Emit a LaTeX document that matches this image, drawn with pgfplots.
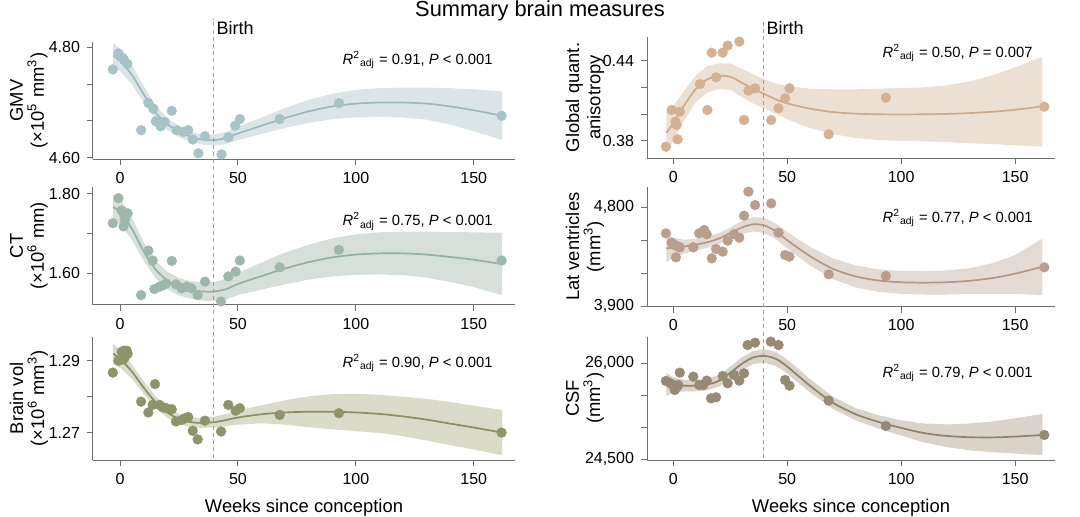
\documentclass[border=0pt]{standalone}
\usepackage{pgfplots}
\pgfplotsset{compat=1.18}
\usepackage{fontspec}
\setmainfont{Liberation Sans}
\definecolor{axgray}{HTML}{6E6E6E}
\definecolor{mA}{HTML}{A8C3C8}\definecolor{lA}{HTML}{9DB9BD}\definecolor{bA}{HTML}{DBE5E7}
\definecolor{mB}{HTML}{9DB8AB}\definecolor{lB}{HTML}{95B0A4}\definecolor{bB}{HTML}{D6DFD9}
\definecolor{mC}{HTML}{8E9369}\definecolor{lC}{HTML}{8A8F62}\definecolor{bC}{HTML}{DADBC8}
\definecolor{mD}{HTML}{D5B193}\definecolor{lD}{HTML}{CFA988}\definecolor{bD}{HTML}{ECDFD4}
\definecolor{mE}{HTML}{B99E8D}\definecolor{lE}{HTML}{B39783}\definecolor{bE}{HTML}{E4DAD4}
\definecolor{mF}{HTML}{968A74}\definecolor{lF}{HTML}{8D8169}\definecolor{bF}{HTML}{D9D3CA}
\pgfplotsset{
  panel/.style={scale only axis, axis lines=left,
    axis line style={draw=axgray, line width=0.5pt, -},
    tick style={draw=axgray, line width=0.5pt}, tick align=outside,
    major tick length=3pt, xmin=-11.5, xmax=167.5,
    scaled y ticks=false, scaled x ticks=false,
    xtick={0,50,100,150}, xticklabels={0,50,100,150},
    tick label style={font=\fontsize{8}{9}\selectfont, text=black},
    ylabel style={at={(axis description cs:-0.152,0.5)}, anchor=center, align=center, font=\fontsize{9.2}{10.6}\selectfont},
    xlabel style={at={(axis description cs:0.5,0)}, anchor=center, yshift=-24pt, font=\fontsize{9.2}{10.6}\selectfont},
    clip=false},
  bandp/.style={draw=none, fill=#1, forget plot},
  fitl/.style={smooth, line width=0.85pt, color=#1},
  pts/.style={only marks, color=#1, mark=*, mark size=2.45pt, mark options={solid, fill=#1, draw=#1, line width=0.2pt}},
}
\tikzset{rs/.style={anchor=east, inner sep=0pt, font=\fontsize{7.4}{8.5}\selectfont}}
\newcommand{\rsq}[2]{\textit{R}\textsuperscript{2}\textsubscript{adj} = #1, \textit{P} #2}
\begin{document}
\begin{tikzpicture}
\useasboundingbox (0,0) rectangle (540pt,-258.5pt);
\node[font=\fontsize{10.9}{12}\selectfont] at (270pt,-5.5pt) {Summary brain measures};
% ---------- Panel 1 GMV
\begin{axis}[panel, at={(46.5pt,-79.7pt)}, anchor=south west, width=211pt, height=58.8pt,
  ymin=4.597, ymax=4.810, ytick={4.6,4.66667,4.73333,4.8}, yticklabels={4.60,,,4.80},
  ylabel={GMV\\(×10\textsuperscript{5} mm\textsuperscript{3})}]
\addplot[bandp=bA] coordinates {(-3,4.808)(0,4.797)(5,4.768)(10,4.730)(15,4.695)(20,4.672)(25,4.657)(30,4.647)(35,4.642)(40,4.642)(45,4.647)(50,4.656)(60,4.673)(70,4.690)(80,4.705)(90,4.716)(100,4.723)(110,4.726)(120,4.727)(130,4.727)(140,4.726)(150,4.724)(162,4.720)
 (162,4.632)(150,4.648)(140,4.660)(130,4.669)(120,4.673)(110,4.674)(100,4.673)(90,4.670)(80,4.663)(70,4.654)(60,4.643)(50,4.632)(45,4.625)(40,4.622)(35,4.624)(30,4.629)(25,4.637)(20,4.650)(15,4.669)(10,4.700)(5,4.733)(0,4.757)(-3,4.764)} -- cycle;
\addplot[fitl=lA] coordinates {(-3,4.785)(0,4.775)(5,4.750)(10,4.715)(15,4.682)(20,4.661)(25,4.647)(30,4.638)(35,4.633)(40,4.632)(45,4.636)(50,4.644)(60,4.658)(70,4.672)(80,4.684)(90,4.693)(100,4.698)(110,4.700)(120,4.700)(130,4.698)(140,4.693)(150,4.686)(162,4.676)};
\addplot[pts=mA] coordinates {(-3.1,4.760)(-0.7,4.789)(1.1,4.781)(1.7,4.777)(3.1,4.770)(8.9,4.650)(12.0,4.699)(14.1,4.689)(15.1,4.666)(17.2,4.657)(18.9,4.665)(21.9,4.685)(24.0,4.650)(26.8,4.647)(28.9,4.650)(30.8,4.633)(33.2,4.608)(36.0,4.639)(43.0,4.606)(45.9,4.637)(48.8,4.658)(50.8,4.670)(67.7,4.670)(92.8,4.699)(161.8,4.676)};
\node[rs] at (rel axis cs:0.948,0.845) {\rsq{0.91}{< 0.001}};
\end{axis}
% ---------- Panel 2 CT
\begin{axis}[panel, at={(46.5pt,-152.5pt)}, anchor=south west, width=211pt, height=59.15pt,
  ymin=1.52, ymax=1.818, ytick={1.6,1.7,1.8}, yticklabels={1.60,,1.80},
  ylabel={CT\\(×10\textsuperscript{6} mm)}]
\addplot[bandp=bB] coordinates {(-3,1.798)(0,1.786)(5,1.740)(10,1.678)(15,1.632)(20,1.604)(25,1.588)(30,1.580)(35,1.577)(40,1.578)(45,1.586)(50,1.601)(60,1.627)(70,1.652)(80,1.672)(90,1.688)(100,1.698)(110,1.703)(120,1.705)(130,1.705)(140,1.704)(150,1.703)(162,1.702)
 (162,1.545)(150,1.565)(140,1.578)(130,1.589)(120,1.595)(110,1.597)(100,1.596)(90,1.592)(80,1.584)(70,1.572)(60,1.559)(50,1.545)(45,1.534)(40,1.530)(35,1.531)(30,1.536)(25,1.544)(20,1.560)(15,1.588)(10,1.632)(5,1.684)(0,1.724)(-3,1.734)} -- cycle;
\addplot[fitl=lB] coordinates {(-3,1.766)(0,1.755)(5,1.712)(10,1.655)(15,1.610)(20,1.582)(25,1.566)(30,1.558)(35,1.554)(40,1.554)(45,1.560)(50,1.573)(60,1.593)(70,1.612)(80,1.628)(90,1.640)(100,1.647)(110,1.650)(120,1.650)(130,1.647)(140,1.641)(150,1.634)(162,1.623)};
\addplot[pts=mB] coordinates {(-3.1,1.726)(-0.7,1.789)(0.7,1.758)(1.7,1.747)(3.2,1.751)(2.1,1.735)(1.4,1.718)(8.9,1.545)(12.0,1.657)(13.8,1.632)(14.5,1.560)(16.7,1.566)(18.3,1.570)(19.5,1.574)(21.9,1.631)(23.7,1.572)(26.1,1.562)(28.2,1.566)(30.3,1.562)(32.9,1.545)(36.0,1.579)(42.8,1.529)(45.9,1.592)(49.0,1.604)(50.8,1.632)(67.7,1.615)(92.8,1.659)(161.8,1.632)};
\node[rs] at (rel axis cs:0.948,0.705) {\rsq{0.75}{< 0.001}};
\end{axis}
% ---------- Panel 3 Brain vol
\begin{axis}[panel, at={(46.5pt,-230pt)}, anchor=south west, width=211pt, height=61.65pt,
  ymin=1.26236, ymax=1.2967, ytick={1.27,1.28,1.29}, yticklabels={1.27,,1.29},
  ylabel={Brain vol\\(×10\textsuperscript{6} mm\textsuperscript{3})}, xlabel={Weeks since conception}]
\addplot[bandp=bC] coordinates {(-3,1.2948)(0,1.2930)(5,1.2890)(10,1.2843)(15,1.2801)(20,1.2771)(25,1.2752)(30,1.2743)(35,1.2741)(40,1.2744)(45,1.2752)(50,1.2762)(60,1.2776)(70,1.2790)(80,1.2801)(90,1.2807)(100,1.2808)(110,1.2805)(120,1.2800)(130,1.2794)(140,1.2785)(150,1.2775)(162,1.2763)
 (162,1.2637)(150,1.2653)(140,1.2665)(130,1.2678)(120,1.2690)(110,1.2699)(100,1.2704)(90,1.2709)(80,1.2715)(70,1.2722)(60,1.2726)(50,1.2722)(45,1.2718)(40,1.2714)(35,1.2713)(30,1.2715)(25,1.2724)(20,1.2741)(15,1.2769)(10,1.2807)(5,1.2850)(0,1.2880)(-3,1.2892)} -- cycle;
\addplot[fitl=lC] coordinates {(-3,1.2920)(0,1.2905)(5,1.2870)(10,1.2825)(15,1.2785)(20,1.2756)(25,1.2738)(30,1.2729)(35,1.2727)(40,1.2729)(45,1.2735)(50,1.2742)(60,1.2751)(70,1.2756)(80,1.2758)(90,1.2758)(100,1.2756)(110,1.2752)(120,1.2745)(130,1.2736)(140,1.2725)(150,1.2714)(162,1.2700)};
\addplot[pts=mC] coordinates {(-3.1,1.2867)(-0.7,1.2900)(0.7,1.2925)(1.7,1.2928)(2.8,1.2928)(3.2,1.2920)(2.1,1.2911)(1.4,1.2904)(8.9,1.2786)(12.0,1.2756)(14.8,1.2835)(13.8,1.2777)(16.7,1.2777)(18.3,1.2770)(19.5,1.2768)(21.9,1.2765)(23.7,1.2731)(26.1,1.2735)(27.5,1.2740)(28.9,1.2743)(30.8,1.2705)(32.9,1.2681)(36.0,1.2733)(42.8,1.2703)(45.9,1.2777)(49.0,1.2761)(50.8,1.2768)(67.7,1.2749)(92.8,1.2754)(161.8,1.2700)};
\node[rs] at (rel axis cs:0.948,0.787) {\rsq{0.90}{< 0.001}};
\coordinate (bL) at (axis cs:39.5,1.2628);
\end{axis}
% ---------- Panel 4 GQA
\begin{axis}[panel, at={(323.5pt,-79.15pt)}, anchor=south west, width=204pt, height=60.8pt,
  ymin=0.3668, ymax=0.458, ytick={0.38,0.40,0.42,0.44}, yticklabels={0.38,,,0.44},
  ylabel={Global quant.\\anisotropy}]
\addplot[bandp=bD] coordinates {(-3,0.4015)(0,0.406)(5,0.418)(10,0.429)(15,0.436)(20,0.438)(25,0.438)(30,0.434)(35,0.430)(40,0.426)(45,0.423)(50,0.421)(60,0.419)(70,0.4185)(80,0.4185)(90,0.419)(100,0.4195)(110,0.420)(120,0.4215)(130,0.4245)(140,0.429)(150,0.435)(162,0.443)
 (162,0.3755)(150,0.3765)(140,0.3775)(130,0.378)(120,0.379)(110,0.3795)(100,0.3799)(90,0.3805)(80,0.382)(70,0.385)(60,0.3895)(50,0.396)(45,0.400)(40,0.404)(35,0.408)(30,0.413)(25,0.418)(20,0.419)(15,0.416)(10,0.409)(5,0.396)(0,0.380)(-3,0.371)} -- cycle;
\addplot[fitl=lD] coordinates {(-3,0.386)(0,0.393)(5,0.407)(10,0.419)(15,0.426)(20,0.4285)(25,0.4280)(30,0.4235)(35,0.419)(40,0.4150)(45,0.4110)(50,0.4080)(60,0.4040)(70,0.4015)(80,0.4003)(90,0.3998)(100,0.3997)(110,0.3998)(120,0.4001)(130,0.4007)(140,0.4017)(150,0.4032)(162,0.4058)};
\addplot[pts=mD] coordinates {(-3.2,0.3755)(-0.7,0.403)(1.0,0.3943)(1.5,0.3918)(1.9,0.381)(2.9,0.4018)(11.7,0.4225)(15.0,0.403)(16.9,0.446)(18.8,0.4275)(21.7,0.446)(23.9,0.4513)(29.0,0.4543)(31.1,0.3955)(33.0,0.4175)(35.9,0.4193)(43.0,0.3955)(46.2,0.4043)(49.1,0.4118)(51.0,0.4193)(68.2,0.3848)(93.3,0.4123)(162.8,0.4055)};
\node[rs] at (rel axis cs:0.946,0.866) {\rsq{0.50}{= 0.007}};
\end{axis}
% ---------- Panel 5 Lat ventricles
\begin{axis}[panel, at={(323.5pt,-153.35pt)}, anchor=south west, width=204pt, height=60pt,
  ymin=3894, ymax=4988, ytick={3900,4200,4500,4800}, yticklabels={{3,900},,,{4,800}},
  ylabel={Lat ventricles\\(mm\textsuperscript{3})}]
\addplot[bandp=bE] coordinates {(-3,4540)(0,4520)(5,4505)(10,4515)(15,4535)(20,4565)(25,4615)(30,4675)(35,4710)(40,4705)(45,4650)(50,4575)(60,4440)(70,4335)(80,4270)(90,4235)(100,4220)(110,4217)(120,4225)(130,4245)(140,4290)(150,4365)(162,4515)
 (162,4000)(150,4010)(140,4012)(130,4010)(120,4005)(110,4005)(100,4010)(90,4030)(80,4070)(70,4145)(60,4270)(50,4425)(45,4510)(40,4565)(35,4580)(30,4555)(25,4510)(20,4465)(15,4430)(10,4405)(5,4380)(0,4340)(-3,4300)} -- cycle;
\addplot[fitl=lE] coordinates {(-3,4426)(0,4432)(5,4444)(10,4460)(15,4482)(20,4515)(25,4565)(30,4615)(35,4645)(40,4635)(45,4580)(50,4500)(60,4355)(70,4240)(80,4170)(90,4133)(100,4117)(110,4113)(120,4117)(130,4130)(140,4155)(150,4195)(162,4259)};
\addplot[pts=mE] coordinates {(-3.2,4563)(-0.7,4478)(0.7,4456)(2.2,4441)(2.9,4435)(1.2,4344)(8.8,4435)(11.4,4563)(13.6,4593)(14.7,4554)(16.9,4335)(18.8,4420)(21.7,4396)(23.9,4496)(26.7,4554)(29.0,4523)(31.1,4724)(33.0,4943)(35.9,4821)(43.0,4836)(46.2,4569)(49.1,4365)(51.0,4350)(68.2,4189)(93.3,4174)(162.8,4253)};
\node[rs] at (rel axis cs:0.946,0.739) {\rsq{0.77}{< 0.001}};
\end{axis}
% ---------- Panel 6 CSF
\begin{axis}[panel, at={(323.5pt,-230pt)}, anchor=south west, width=204pt, height=61.65pt,
  ymin=24489, ymax=26416, ytick={24500,25000,25500,26000}, yticklabels={{24,500},,,{26,000}},
  ylabel={CSF\\(mm\textsuperscript{3})}, xlabel={Weeks since conception}]
\addplot[bandp=bF] coordinates {(-3,25850)(0,25780)(5,25740)(10,25738)(15,25760)(20,25815)(25,25945)(30,26090)(35,26190)(40,26220)(45,26180)(50,26060)(60,25755)(70,25480)(80,25300)(90,25190)(100,25110)(110,25060)(120,25045)(130,25060)(140,25090)(150,25140)(162,25210)
 (162,24565)(150,24590)(140,24610)(130,24640)(120,24690)(110,24765)(100,24870)(90,24980)(80,25110)(70,25290)(60,25545)(50,25840)(45,25960)(40,26010)(35,25990)(30,25890)(25,25755)(20,25635)(15,25580)(10,25562)(5,25560)(0,25550)(-3,25490)} -- cycle;
\addplot[fitl=lF] coordinates {(-3,25672)(0,25665)(5,25650)(10,25650)(15,25670)(20,25725)(25,25850)(30,25990)(35,26090)(40,26115)(45,26070)(50,25950)(60,25650)(70,25385)(80,25205)(90,25085)(100,24990)(110,24910)(120,24865)(130,24845)(140,24842)(150,24855)(162,24880)};
\addplot[pts=mF] coordinates {(-3.2,25724)(-1.2,25688)(0,25661)(0.7,25583)(1.5,25625)(2.2,25661)(2.9,25854)(8.8,25792)(11.4,25661)(13.2,25661)(14.7,25729)(16.6,25453)(18.8,25469)(21.7,25802)(23.9,25688)(26.7,25818)(29.0,25729)(31.1,25844)(32.6,26286)(35.9,26323)(42.8,26339)(46.2,26286)(49.1,25740)(51.0,25651)(68.2,25417)(93.3,25021)(162.8,24880)};
\node[rs] at (rel axis cs:0.946,0.706) {\rsq{0.79}{< 0.001}};
\coordinate (bR) at (axis cs:39.5,24520);
\end{axis}
% Birth lines
\draw[color=gray!75, line width=0.5pt, dash pattern=on 2pt off 1.6pt] (bL) -- (bL |- 0,-9.5pt);
\draw[color=gray!75, line width=0.5pt, dash pattern=on 2pt off 1.6pt] (bR) -- (bR |- 0,-9.5pt);
\node[anchor=west, font=\fontsize{9}{10}\selectfont, inner sep=1pt] at ([xshift=0.5pt]bL |- 0,-14pt) {Birth};
\node[anchor=west, font=\fontsize{9}{10}\selectfont, inner sep=1pt] at ([xshift=0.5pt]bR |- 0,-14pt) {Birth};
\end{tikzpicture}
\end{document}
